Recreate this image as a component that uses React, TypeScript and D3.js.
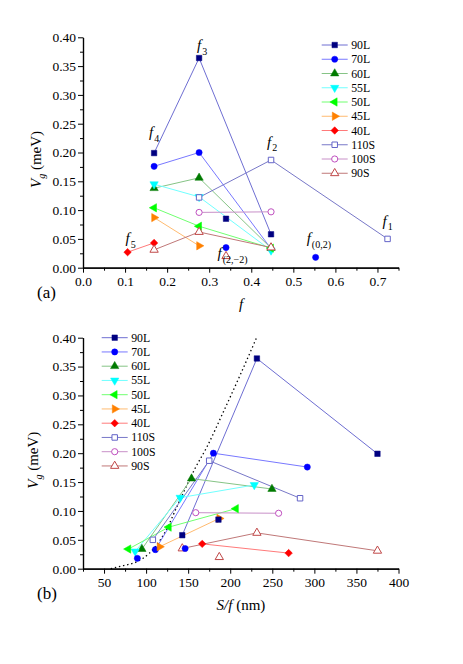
import React, { useRef, useEffect } from "react";
import * as d3 from "d3";

// series, in legend order
const seriesNames = ["90L", "70L", "60L", "55L", "50L", "45L", "40L", "110S", "100S", "90S"];
const markerColors = ["#000080", "#0000ff", "#007a00", "#00ffff", "#00ff00", "#ff8000", "#ff0000", "#6464c8", "#c050c0", "#c04848"];
const lineColors = ["#6e6ed2", "#7878ff", "#86c486", "#70ffff", "#70ff70", "#ffbb70", "#ff7a7a", "#7878c8", "#c890c8", "#c07878"];
const markerShapes = ["square", "circle", "up", "down", "left", "right", "diamond", "square", "circle", "up"];
const hollow = [false, false, false, false, false, false, false, true, true, true];

// connected points: f for panel (a), S/f (nm) for panel (b), Vg (meV) shared
const fValues = [
  [0.169, 0.276, 0.447],
  [0.169, 0.276, 0.447],
  [0.169, 0.276, 0.447],
  [0.169, 0.276, 0.447],
  [0.169, 0.276, 0.447],
  [0.169, 0.276],
  [0.106, 0.169],
  [0.276, 0.447, 0.724],
  [0.276, 0.447],
  [0.169, 0.276, 0.447],
];
const sfValues = [
  [375, 231.7, 143],
  [291.6, 180, 111],
  [249.6, 154, 95],
  [228.6, 140.5, 87],
  [206.8, 127, 78.9],
  [187, 116],
  [269.4, 166.7],
  [283, 175, 108],
  [257.5, 159],
  [375, 231.7, 143],
];
const vgValues = [
  [0.199, 0.364, 0.058],
  [0.176, 0.2, 0.033],
  [0.138, 0.156, 0.034],
  [0.145, 0.123, 0.03],
  [0.104, 0.072, 0.034],
  [0.087, 0.038],
  [0.027, 0.043],
  [0.122, 0.187, 0.05],
  [0.096, 0.097],
  [0.031, 0.062, 0.035],
];

// isolated (unconnected) points
const isoSeries = [0, 1, 1, 9];
const isoF = [0.34, 0.34, 0.553, 0.34];
const isoSF = [186, 146.4, 89.6, 187];
const isoV = [0.085, 0.035, 0.018, 0.02];

// dotted guide curve in (b)
const curveSF = [58, 72, 89, 104, 111, 125, 136.5, 147.6, 158.3, 172, 192, 212, 231];
const curveV = [0, 0.005, 0.012, 0.027, 0.038, 0.07, 0.107, 0.142, 0.174, 0.21, 0.272, 0.336, 0.399];

// f annotations in (a)
const fLabelSub = ["3", "4", "2", "1", "(0,2)", "(2,\u22122)", "5"];
const fLabelF = [0.276, 0.169, 0.447, 0.724, 0.553, 0.34, 0.106];
const fLabelV = [0.364, 0.199, 0.187, 0.05, 0.018, 0.02, 0.027];
const fLabelOffset = [[-2, -8], [-5, -16], [-4, -13], [-5, -13], [-9, -14], [-8.5, 2], [-2, -9]];

// ticks
const yTicks = [0, 0.05, 0.1, 0.15, 0.2, 0.25, 0.3, 0.35, 0.4];
const xTicksA = [0, 0.1, 0.2, 0.3, 0.4, 0.5, 0.6, 0.7];
const xTicksB = [50, 100, 150, 200, 250, 300, 350, 400];

const FONT = "Liberation Serif";

const symbolPath = (shape: string) => {
  const gen = d3.symbol();
  if (shape === "square") return gen.type(d3.symbolSquare).size(30)();
  if (shape === "circle") return gen.type(d3.symbolCircle).size(30)();
  if (shape === "diamond") return gen.type(d3.symbolSquare).size(28)();
  return gen.type(d3.symbolTriangle).size(30)();
};
const symbolRotate = (shape: string) =>
  ({ down: 180, left: -90, right: 90, diamond: 45 } as any)[shape] || 0;

const App = () => {
  const ref = useRef<SVGSVGElement>(null);

  useEffect(() => {
    const svg = d3.select(ref.current);
    svg.selectAll("*").remove();

    const drawMarker = (g: any, i: number, px: number, py: number) => {
      g.append("path")
        .attr("d", symbolPath(markerShapes[i]))
        .attr("transform", `translate(${px},${py}) rotate(${symbolRotate(markerShapes[i])})`)
        .attr("fill", hollow[i] ? "#fff" : markerColors[i])
        .attr("stroke", markerColors[i])
        .attr("stroke-width", hollow[i] ? 1 : 0.5);
    };

    const panels = [
      {
        x: d3.scaleLinear().domain([0, 0.75]).range([83, 398.5]),
        y: d3.scaleLinear().domain([0, 0.4]).range([267.7, 37.3]),
        xs: fValues, iso: isoF, xTicks: xTicksA, fmt: d3.format(".1f"), legend: [321.7, 45],
      },
      {
        x: d3.scaleLinear().domain([25, 400]).range([83, 398.5]),
        y: d3.scaleLinear().domain([0, 0.4]).range([568.7, 337.7]),
        xs: sfValues, iso: isoSF, xTicks: xTicksB, fmt: d3.format("d"), legend: [101.7, 337.7],
      },
    ];

    panels.forEach((p, pi) => {
      const g = svg.append("g");
      const x0 = p.x.range()[0];
      const y0 = p.y.range()[0];

      // minor ticks halfway between majors
      const yMinor = yTicks.slice(0, -1).map((t, k) => (t + yTicks[k + 1]) / 2);
      const step = p.xTicks[1] - p.xTicks[0];
      const xMinor = [p.xTicks[0] - step / 2, ...p.xTicks.map(t => t + step / 2)].filter(
        t => t >= p.x.domain()[0] && t <= p.x.domain()[1]
      );

      const styleAxis = (a: any) => {
        a.attr("font-family", FONT).attr("font-size", 13.5);
        a.selectAll("text").attr("fill", "#000");
        a.selectAll("line").attr("stroke", "#000").attr("stroke-width", 1);
        a.select(".domain").attr("stroke", "#000").attr("stroke-width", 1.2);
      };

      g.append("g")
        .attr("transform", `translate(0,${y0})`)
        .call(d3.axisBottom(p.x).tickValues(xMinor).tickSize(3).tickSizeOuter(0).tickFormat(() => ""))
        .call(styleAxis);
      g.append("g")
        .attr("transform", `translate(0,${y0})`)
        .call(d3.axisBottom(p.x).tickValues(p.xTicks).tickSize(5).tickSizeOuter(0).tickPadding(4).tickFormat(p.fmt as any))
        .call(styleAxis);
      g.append("g")
        .attr("transform", `translate(${x0},0)`)
        .call(d3.axisLeft(p.y).tickValues(yMinor).tickSize(3).tickSizeOuter(0).tickFormat(() => ""))
        .call(styleAxis);
      g.append("g")
        .attr("transform", `translate(${x0},0)`)
        .call(d3.axisLeft(p.y).tickValues(yTicks).tickSize(5).tickSizeOuter(0).tickPadding(2).tickFormat(d3.format(".2f")))
        .call(styleAxis);

      // dotted guide curve (panel b only)
      if (pi === 1) {
        const curve = d3.line<number>()
          .x((d, k) => p.x(curveSF[k]))
          .y(d => p.y(d))
          .curve(d3.curveMonotoneX);
        g.append("path")
          .datum(curveV)
          .attr("fill", "none")
          .attr("stroke", "#000")
          .attr("stroke-width", 1.3)
          .attr("stroke-dasharray", "1.4,2.8")
          .attr("d", curve);
      }

      // series lines
      seriesNames.forEach((name, i) => {
        const line = d3.line<number>()
          .x((d, k) => p.x(p.xs[i][k]))
          .y(d => p.y(d));
        g.append("path")
          .datum(vgValues[i])
          .attr("fill", "none")
          .attr("stroke", lineColors[i])
          .attr("stroke-width", 1)
          .attr("d", line);
      });

      // markers
      seriesNames.forEach((name, i) => {
        vgValues[i].forEach((v, k) => drawMarker(g, i, p.x(p.xs[i][k]), p.y(v)));
      });
      isoSeries.forEach((i, k) => drawMarker(g, i, p.x(p.iso[k]), p.y(isoV[k])));

      // legend
      const [lx, ly] = p.legend;
      seriesNames.forEach((name, i) => {
        const yy = ly + i * 14.25;
        g.append("line")
          .attr("x1", lx).attr("x2", lx + 26)
          .attr("y1", yy).attr("y2", yy)
          .attr("stroke", lineColors[i]).attr("stroke-width", 1);
        drawMarker(g, i, lx + 13, yy);
        g.append("text")
          .attr("x", lx + 29.5).attr("y", yy + 4)
          .attr("font-family", FONT)
          .attr("font-size", 11.8)
          .text(name);
      });

      // y axis title
      const yt = g.append("text")
        .attr("transform", `translate(${pi === 0 ? 40.5 : 38},${(p.y.range()[0] + p.y.range()[1]) / 2 + 7}) rotate(-90)`)
        .attr("text-anchor", "middle")
        .attr("font-family", FONT)
        .attr("font-size", 15);
      yt.append("tspan").attr("font-style", "italic").text("V");
      yt.append("tspan").attr("font-style", "italic").attr("font-size", 10).attr("dy", 4).text("g");
      yt.append("tspan").attr("dy", -4).text(" (meV)");

      // x axis title
      const xt = g.append("text")
        .attr("x", 241)
        .attr("y", y0 + 41.5)
        .attr("text-anchor", "middle")
        .attr("font-family", FONT)
        .attr("font-size", 15);
      if (pi === 0) {
        xt.append("tspan").attr("font-style", "italic").text("f");
      } else {
        xt.append("tspan").attr("font-style", "italic").text("S/f");
        xt.append("tspan").text(" (nm)");
      }

      // panel tag
      g.append("text")
        .attr("x", 37).attr("y", y0 + 30)
        .attr("font-family", FONT)
        .attr("font-size", 17)
        .text(pi === 0 ? "(a)" : "(b)");

      // f annotations
      if (pi === 0) {
        fLabelSub.forEach((sub, k) => {
          const t = g.append("text")
            .attr("x", p.x(fLabelF[k]) + fLabelOffset[k][0])
            .attr("y", p.y(fLabelV[k]) + fLabelOffset[k][1])
            .attr("font-family", FONT)
            .attr("font-size", 15);
          t.append("tspan").attr("font-style", "italic").text("f");
          t.append("tspan").attr("font-size", 10).attr("dx", 1).attr("dy", 4.5).text(sub);
        });
      }
    });
  }, []);

  return (
    <div style={{ position: "absolute", left: 0, top: 0 }}>
      <svg ref={ref} width={463} height={664} style={{ display: "block", background: "#fff" }} />
    </div>
  );
};

export default App;
